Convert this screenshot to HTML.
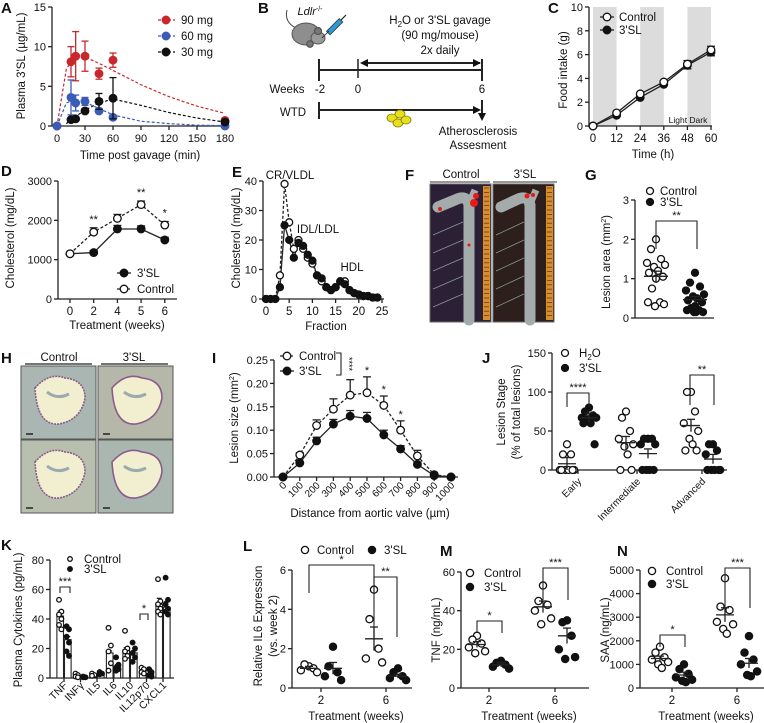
<!DOCTYPE html>
<html><head><meta charset="utf-8"><title>3'SL figure</title>
<style>
html,body{margin:0;padding:0;background:#fff;}
svg{display:block;font-family:"Liberation Sans",Arial,sans-serif;}
</style></head>
<body>
<svg id="fig" width="764" height="723" viewBox="0 0 764 723" xmlns="http://www.w3.org/2000/svg"></svg>
<script>
// ---------- Panel A data ----------
const timesA = [0, 15, 20, 30, 45, 60, 180];
const mg90 = [0, 8.1, 8.8, 8.8, 6.6, 8.3, 0.7];
const mg90Err = [0, 1.9, 3.1, 1.9, 0.7, 0.9, 0];
const mg60 = [0, 3.6, 2.9, 3.1, 1.9, 1.1, 0];
const mg60Err = [0, 2.2, 1.0, 0.5, 0.3, 0.2, 0];
const times30 = [15, 20, 30, 45, 60, 180];
const mg30 = [0.8, 0.9, 1.9, 3.1, 3.5, 0.5];
const mg30Err = [0.2, 0.2, 0.3, 1.0, 2.6, 0];
const fitT = [0, 10, 20, 30, 45, 60, 90, 120, 150, 180];
const fit90 = [0, 7.2, 8.9, 8.7, 7.9, 7.0, 5.2, 3.7, 2.5, 1.6];
const fit60 = [0, 2.9, 3.4, 3.0, 2.2, 1.4, 0.6, 0.3, 0.1, 0.05];
const fitT30 = [10, 15, 20, 30, 45, 60, 90, 120, 150, 180];
const fit30 = [0.3, 0.8, 1.2, 2.0, 2.9, 3.4, 2.6, 1.7, 1.0, 0.5];
const ticksA = [0, 5, 10, 15];
const xticksA = [0, 30, 60, 90, 120, 150, 180];
// ---------- Panel C data ----------
const timesC = [0, 12, 24, 36, 48, 60];
const foodCtrl = [0, 1.1, 2.7, 3.7, 5.2, 6.4];
const foodSL = [0, 0.9, 2.4, 3.5, 5.1, 6.2];
const ticksC = [0, 2, 4, 6, 8, 10];
const darkBands = [[0, 12], [24, 36], [48, 60]];
// ---------- Panel D data ----------
const weeksD = ['0', '2', '4', '5', '6'];
const cholCtrl = [1150, 1700, 2050, 2400, 1880];
const cholCtrlErr = [0, 110, 100, 90, 90];
const cholSL = [1150, 1180, 1780, 1780, 1500];
const cholSLErr = [0, 50, 90, 80, 70];
const ticksD = [0, 1000, 2000, 3000];
const starsD = ['', '**', '', '**', '*'];
// ---------- Panel E data ----------
const fractions = [0,1,2,3,4,5,6,7,8,9,10,11,12,13,14,15,16,17,18,19,20,21,22,23,24];
const fpCtrl = [0,0,0,8,39,26,17,20,17,14,12,8,6,4,3,4,6,6,3,2,1.5,1,1,0.5,0.5];
const fpSL = [0,0,0,4,25,20,14,19,18,15,13,8,7,4,3,4,6,5,3,2,1.5,1,1,0.5,0.5];
const ticksE = [0, 10, 20, 30, 40];
const xticksE = [0, 5, 10, 15, 20, 25];
// ---------- Panel G data ----------
const lesionCtrl = [2.0,1.75,1.5,1.4,1.35,1.3,1.2,1.15,1.05,1.0,0.75,0.4,0.4,0.35,0.3];
const lesionSL = [1.15,0.9,0.8,0.7,0.6,0.55,0.5,0.45,0.4,0.3,0.25,0.2,0.2,0.15,0.15,0.15];
const ticksG = [0, 1, 2, 3];
// ---------- Panel I data ----------
const distI = [0,100,200,300,400,500,600,700,800,900,1000];
const sizeCtrl = [0,0.047,0.11,0.145,0.175,0.18,0.153,0.10,0.045,0.005,0];
const sizeCtrlErr = [0,0.005,0.012,0.022,0.033,0.034,0.02,0.02,0.012,0.003,0];
const sizeSL = [0,0.03,0.077,0.113,0.13,0.125,0.09,0.06,0.027,0.003,0];
const sizeSLErr = [0,0.003,0.008,0.01,0.012,0.013,0.01,0.007,0.005,0.002,0];
const ticksI = [0, 0.05, 0.10, 0.15, 0.20, 0.25];
const tickLabelsI = ['0.00','0.05','0.10','0.15','0.20','0.25'];
const starsI = ['','','','','','*','*','*','','',''];
// ---------- Panel J data ----------
const stages = ['Early', 'Intermediate', 'Advanced'];
const stageH2O = [[33,20,20,0,0,0,0,0,0],[75,67,50,40,33,30,20,0,0],[100,100,75,60,50,40,33,25,25]];
const stageSL = [[80,75,70,67,67,65,60,60,33],[40,40,40,33,33,0,0,0,0],[33,33,25,20,0,0,0,0,0]];
const stageH2OMean = [8, 35, 57];
const stageSLMean = [67, 21, 14];
const ticksJ = [0, 50, 100, 150];
// ---------- Panel K data ----------
const cytokines = ['TNF', 'INFγ', 'IL5', 'IL6', 'IL10', 'IL12p70', 'CXCL1'];
const cytoCtrl = [42, 1.5, 2, 17, 19, 5, 50];
const cytoSL = [26, 0.7, 3, 8, 17, 3, 48];
const cytoCtrlPts = [[53,45,43,40,36,33],[3,2,1,0.5],[3,2,1.5],[34,22,18,10,5],[32,20,18,15,13],[7,6,4,3],[67,52,50,47,45,43]];
const cytoSLPts = [[35,33,28,24,18,15],[1,0.5,0.5],[4,3,2.5],[14,9,7,6,5],[24,20,17,14,11],[6,4,2,1],[68,53,50,47,45,43]];
const ticksK = [0, 20, 40, 60, 80];
// ---------- Panel L data ----------
const weeksLMN = ['2', '6'];
const il6Ctrl = [[1.1,1.2,1.0,0.9,0.8],[5.0,3.5,2.0,1.5,1.3]];
const il6SL = [[2.1,1.1,0.8,0.6,0.4],[1.0,0.8,0.6,0.5,0.4]];
const il6CtrlMean = [1.0, 2.5];
const il6SLMean = [1.0, 0.6];
const ticksL = [0, 2, 4, 6];
// ---------- Panel M data ----------
const tnfCtrl = [[27,25,23,21,19,18],[53,45,43,40,36,33]];
const tnfSL = [[14,13,12,11,10],[35,34,27,20,16,15]];
const tnfCtrlMean = [22.5, 42];
const tnfSLMean = [12, 27];
const ticksM = [0, 20, 40, 60];
// ---------- Panel N data ----------
const saaCtrl = [[1750,1500,1300,1200,1100,1000,850],[4650,3450,3300,2800,2700,2500,2300]];
const saaSL = [[1000,800,600,450,350,300,250],[2200,1500,1200,1000,700,550,500]];
const saaCtrlMean = [1250, 3100];
const saaSLMean = [550, 1050];
const ticksN = [0, 1000, 2000, 3000, 4000, 5000];

const NS = 'http://www.w3.org/2000/svg';
const svg = document.getElementById('fig');
function mk(p, tag, at, name) {
  const e = document.createElementNS(NS, tag);
  for (const k in at) e.setAttribute(k, at[k]);
  
  
  p.appendChild(e);
  return e;
}
function grp(name) { return mk(svg, 'g', {}, name); }
function txt(p, x, y, s, name, o) {
  const e = mk(p, 'text', Object.assign({x: x, y: y, 'font-size': 11, 'text-anchor': 'middle', fill: '#111'}, o || {}), name);
  e.innerHTML = s;
  return e;
}
function ln(p, x1, y1, x2, y2, name, o) {
  return mk(p, 'line', Object.assign({x1: x1, y1: y1, x2: x2, y2: y2, stroke: '#222', 'stroke-width': 1.3}, o || {}), name);
}
function dot(p, x, y, r, fill, name, stroke) {
  return mk(p, 'circle', {cx: x, cy: y, r: r, fill: fill, stroke: stroke || '#111', 'stroke-width': 1.3}, name);
}
function lin(d0, d1, r0, r1) { return v => r0 + (v - d0) * (r1 - r0) / (d1 - d0); }
function yAxis(p, x, sy, ticks, labels, name) {
  ln(p, x, sy(ticks[0]), x, sy(ticks[ticks.length - 1]), name + '-line');
  ticks.forEach((t, i) => {
    ln(p, x - 4, sy(t), x, sy(t), name + '-tick');
    txt(p, x - 6, sy(t) + 4, labels[i], name + '-label', {'text-anchor': 'end'});
  });
}
function ytitle(p, x, y, s, name, fs) {
  return txt(p, x, y, s, name, {transform: 'rotate(-90 ' + x + ' ' + y + ')', 'font-size': fs || 11});
}
function errBar(p, x, y0, y1, name, color, cap) {
  cap = cap || 4;
  ln(p, x, y0, x, y1, name, {stroke: color || '#222'});
  ln(p, x - cap, y1, x + cap, y1, name + '-cap', {stroke: color || '#222'});
}
function poly(p, pts, name, o) {
  return mk(p, 'polyline', Object.assign({points: pts.map(q => q.join(',')).join(' '), fill: 'none', stroke: '#222', 'stroke-width': 1.3}, o || {}), name);
}
function letter(s, x, y) {
  const e = txt(svg, x, y, s, 'panel-label-' + s.toLowerCase(), {'font-size': 15, 'font-weight': 'bold', 'text-anchor': 'start'});
  return e;
}
function bracket(p, x1, x2, y, drop, stars, name) {
  poly(p, [[x1, y + drop], [x1, y], [x2, y], [x2, y + drop]], name, {'stroke-width': 1.1});
  txt(p, (x1 + x2) / 2, y - 2, stars, name + '-stars', {'font-size': 11});
}
function jitter(i) { const o = [0, -5, 5, -9, 9, -2, 2, -7, 7, 0, -4, 4, -8, 8, -1, 1]; return o[i % o.length]; }

// ================= Panel A =================
(function () {
  const g = grp('panel-a');
  const sx = lin(0, 180, 57, 225), sy = lin(0, 15, 126, 7);
  yAxis(g, 52, sy, ticksA, ticksA.map(String), 'a-y-axis');
  ln(g, 52, 126, 228, 126, 'a-x-axis');
  xticksA.forEach(t => { ln(g, sx(t), 126, sx(t), 130, 'a-x-tick'); txt(g, sx(t), 142, String(t), 'a-x-tick-label'); });
  txt(g, 140, 159, 'Time post gavage (min)', 'a-x-title', {'font-size': 11.5});
  ytitle(g, 25, 66, "Plasma 3'SL (µg/mL)", 'a-y-title', 11.5);
  const series = [
    {t: timesA, v: mg90, e: mg90Err, ft: fitT, f: fit90, c: '#c8282d', n: '90mg'},
    {t: timesA, v: mg60, e: mg60Err, ft: fitT, f: fit60, c: '#3a5bb8', n: '60mg'},
    {t: times30, v: mg30, e: mg30Err, ft: fitT30, f: fit30, c: '#111', n: '30mg'}
  ];
  series.forEach(s => {
    poly(g, s.ft.map((t, i) => [sx(t), sy(s.f[i])]), 'a-fit-' + s.n, {stroke: s.c, 'stroke-dasharray': '3,2', 'stroke-width': 1.2});
    s.t.forEach((t, i) => {
      if (s.e[i] > 0) { errBar(g, sx(t), sy(s.v[i] - s.e[i]), sy(s.v[i] + s.e[i]), 'a-err-' + s.n, s.c, 3.5); ln(g, sx(t) - 3.5, sy(s.v[i] - s.e[i]), sx(t) + 3.5, sy(s.v[i] - s.e[i]), 'a-err-low', {stroke: s.c}); }
      dot(g, sx(t), sy(s.v[i]), 3.8, s.c, 'a-point-' + s.n, s.c);
    });
  });
  const leg = [['90 mg', '#c8282d'], ['60 mg', '#3a5bb8'], ['30 mg', '#111']];
  leg.forEach((l, i) => {
    const y = 20 + i * 16;
    ln(g, 158, y, 175, y, 'a-legend-line', {stroke: l[1], 'stroke-dasharray': '3,2'});
    dot(g, 166, y, 3.8, l[1], 'a-legend-marker', l[1]);
    txt(g, 181, y + 4, l[0], 'a-legend-entry', {'text-anchor': 'start', 'font-size': 11.5});
  });
})();
letter('A', 1, 13);

// ================= Panel B =================
(function () {
  const g = grp('panel-b');
  mk(g, 'path', {d: 'M287 10 Q284 22 296 28', fill: 'none', stroke: '#444', 'stroke-width': 1}, 'b-mouse-tail');
  mk(g, 'ellipse', {cx: 306, cy: 34, rx: 14, ry: 11, fill: '#8e8e8e', stroke: '#555'}, 'b-mouse-body');
  mk(g, 'ellipse', {cx: 318, cy: 38, rx: 7, ry: 6, fill: '#9a9a9a', stroke: '#555'}, 'b-mouse-head');
  dot(g, 318, 31, 3.5, '#777', 'b-mouse-ear', '#555');
  dot(g, 310, 44, 3.2, '#777', 'b-mouse-ear2', '#555');
  txt(g, 310, 15, '<tspan font-style="italic">Ldlr</tspan><tspan font-size="7" dy="-4">-/-</tspan>', 'b-strain-label', {'text-anchor': 'middle', 'font-size': 11});
  mk(g, 'rect', {x: 326, y: 24, width: 18, height: 5, fill: '#2a9ad8', stroke: '#333', 'stroke-width': 0.8, transform: 'rotate(-45 335 27)'}, 'b-syringe');
  ln(g, 322, 38, 329, 31, 'b-needle', {'stroke-width': 0.8});
  ln(g, 341, 20, 346, 15, 'b-plunger', {'stroke-width': 1.2});
  txt(g, 440, 24, "H<tspan font-size='8' dy='3'>2</tspan><tspan dy='-3'>O or 3'SL gavage</tspan>", 'b-treatment-label', {'font-size': 11.5});
  txt(g, 440, 39, '(90 mg/mouse)', 'b-dose-label', {'font-size': 11.5});
  txt(g, 440, 54, '2x daily', 'b-frequency-label', {'font-size': 11.5});
  ln(g, 319, 59, 319, 81, 'b-tick-week-minus2', {'stroke-width': 2});
  ln(g, 358, 59, 358, 78, 'b-tick-week-0', {'stroke-width': 1.5});
  ln(g, 482, 59, 482, 81, 'b-tick-week-6', {'stroke-width': 2});
  ln(g, 319, 70, 482, 70, 'b-timeline', {'stroke-width': 2});
  ln(g, 362, 63, 480, 63, 'b-treatment-arrow', {'stroke-width': 2});
  mk(g, 'path', {d: 'M360 63 l8 -4 v8 z', fill: '#111'}, 'b-arrowhead-left');
  mk(g, 'path', {d: 'M481 63 l-8 -4 v8 z', fill: '#111'}, 'b-arrowhead-right');
  txt(g, 287, 93, 'Weeks', 'b-weeks-label', {'font-size': 11.5});
  txt(g, 320, 93, '-2', 'b-week-label', {'font-size': 11.5});
  txt(g, 358, 93, '0', 'b-week-label', {'font-size': 11.5});
  txt(g, 482, 93, '6', 'b-week-label', {'font-size': 11.5});
  txt(g, 293, 116, 'WTD', 'b-diet-label', {'font-size': 11.5});
  ln(g, 319, 102, 319, 119, 'b-diet-start', {'stroke-width': 2});
  ln(g, 319, 110, 478, 110, 'b-diet-line', {'stroke-width': 2});
  mk(g, 'path', {d: 'M481 110 l-8 -4 v8 z', fill: '#111'}, 'b-diet-arrowhead');
  ln(g, 482, 100, 482, 116, 'b-down-line', {'stroke-width': 2});
  mk(g, 'path', {d: 'M482 121 l-4 -8 h8 z', fill: '#111'}, 'b-down-arrowhead');
  txt(g, 478, 135, 'Atherosclerosis', 'b-outcome-label', {'font-size': 11.5});
  txt(g, 478, 149, 'Assesment', 'b-outcome-label2', {'font-size': 11.5});
  [[392, 118], [400, 114], [398, 123], [406, 120]].forEach(p => mk(g, 'ellipse', {cx: p[0], cy: p[1], rx: 5, ry: 4, fill: '#e8e01a', stroke: '#807a10', 'stroke-width': 0.8}, 'b-food-pellet'));
})();
letter('B', 258, 13);

// ================= Panel C =================
(function () {
  const g = grp('panel-c');
  const sx = lin(0, 60, 593, 711), sy = lin(0, 10, 126, 7);
  darkBands.forEach(b => mk(g, 'rect', {x: sx(b[0]), y: 7, width: sx(b[1]) - sx(b[0]), height: 119, fill: '#dcdcdc'}, 'c-dark-band'));
  yAxis(g, 589, sy, ticksC, ticksC.map(String), 'c-y-axis');
  ln(g, 589, 126, 712, 126, 'c-x-axis');
  timesC.forEach(t => { ln(g, sx(t), 126, sx(t), 130, 'c-x-tick'); txt(g, sx(t), 142, String(t), 'c-x-tick-label', {'font-size': 11.5}); });
  txt(g, 653, 158, 'Time (h)', 'c-x-title', {'font-size': 11.5});
  ytitle(g, 567, 70, 'Food intake (g)', 'c-y-title', 11.5);
  txt(g, 688, 123, 'Light Dark', 'c-light-dark-label', {'font-size': 8.5});
  poly(g, timesC.map((t, i) => [sx(t), sy(foodSL[i])]), 'c-line-3sl');
  poly(g, timesC.map((t, i) => [sx(t), sy(foodCtrl[i])]), 'c-line-control');
  timesC.forEach((t, i) => {
    if (i > 3) errBar(g, sx(t), sy(foodSL[i]), sy(foodSL[i] - 0.3), 'c-err-3sl');
    dot(g, sx(t), sy(foodSL[i]), 3.8, '#111', 'c-point-3sl');
    if (i > 3) errBar(g, sx(t), sy(foodCtrl[i]), sy(foodCtrl[i] + 0.3), 'c-err-control');
    dot(g, sx(t), sy(foodCtrl[i]), 3.8, '#fff', 'c-point-control');
  });
  ln(g, 600, 17, 614, 17, 'c-legend-line'); dot(g, 607, 17, 3.8, '#fff', 'c-legend-marker-control');
  txt(g, 619, 21, 'Control', 'c-legend-entry', {'text-anchor': 'start', 'font-size': 11.5});
  ln(g, 600, 30, 614, 30, 'c-legend-line'); dot(g, 607, 30, 3.8, '#111', 'c-legend-marker-3sl');
  txt(g, 619, 34, "3'SL", 'c-legend-entry', {'text-anchor': 'start', 'font-size': 11.5});
})();
letter('C', 548, 13);

// ================= Panel D =================
(function () {
  const g = grp('panel-d');
  const sx = i => 70 + i * 23.7, sy = lin(0, 3000, 299, 181);
  yAxis(g, 58, sy, ticksD, ticksD.map(String), 'd-y-axis');
  ln(g, 58, 299, 177, 299, 'd-x-axis');
  weeksD.forEach((w, i) => { ln(g, sx(i), 299, sx(i), 303, 'd-x-tick'); txt(g, sx(i), 315, w, 'd-x-tick-label', {'font-size': 11.5}); });
  txt(g, 117, 329, 'Treatment (weeks)', 'd-x-title', {'font-size': 11.5});
  ytitle(g, 14, 238, 'Cholesterol (mg/dL)', 'd-y-title', 11.5);
  poly(g, weeksD.map((w, i) => [sx(i), sy(cholSL[i])]), 'd-line-3sl');
  poly(g, weeksD.map((w, i) => [sx(i), sy(cholCtrl[i])]), 'd-line-control', {'stroke-dasharray': '3,2'});
  weeksD.forEach((w, i) => {
    if (cholSLErr[i]) errBar(g, sx(i), sy(cholSL[i]), sy(cholSL[i] + cholSLErr[i]), 'd-err-3sl');
    dot(g, sx(i), sy(cholSL[i]), 3.8, '#111', 'd-point-3sl');
    if (cholCtrlErr[i]) errBar(g, sx(i), sy(cholCtrl[i]), sy(cholCtrl[i] + cholCtrlErr[i]), 'd-err-control');
    dot(g, sx(i), sy(cholCtrl[i]), 3.8, '#fff', 'd-point-control');
    if (starsD[i]) txt(g, sx(i), sy(cholCtrl[i] + cholCtrlErr[i]) - 5, starsD[i], 'd-significance', {'font-size': 11});
  });
  ln(g, 117, 273, 131, 273, 'd-legend-line'); dot(g, 124, 273, 3.8, '#111', 'd-legend-marker-3sl');
  txt(g, 137, 277, "3'SL", 'd-legend-entry', {'text-anchor': 'start', 'font-size': 11.5});
  ln(g, 117, 289, 131, 289, 'd-legend-line', {'stroke-dasharray': '3,2'}); dot(g, 124, 289, 3.8, '#fff', 'd-legend-marker-control');
  txt(g, 137, 293, 'Control', 'd-legend-entry', {'text-anchor': 'start', 'font-size': 11.5});
})();
letter('D', 1, 176);

// ================= Panel E =================
(function () {
  const g = grp('panel-e');
  const sx = lin(0, 25, 266, 382), sy = lin(0, 40, 299, 181);
  yAxis(g, 263, sy, ticksE, ticksE.map(String), 'e-y-axis');
  ln(g, 263, 299, 384, 299, 'e-x-axis');
  xticksE.forEach(t => { ln(g, sx(t), 299, sx(t), 303, 'e-x-tick'); txt(g, sx(t), 315, String(t), 'e-x-tick-label', {'font-size': 11.5}); });
  txt(g, 326, 330, 'Fraction', 'e-x-title', {'font-size': 11.5});
  ytitle(g, 240, 238, 'Cholesterol (mg/dL)', 'e-y-title', 11.5);
  poly(g, fractions.map((f, i) => [sx(f), sy(fpCtrl[i])]), 'e-line-control', {'stroke-dasharray': '3,2'});
  poly(g, fractions.map((f, i) => [sx(f), sy(fpSL[i])]), 'e-line-3sl');
  fractions.forEach((f, i) => dot(g, sx(f), sy(fpCtrl[i]), 3.5, '#fff', 'e-point-control'));
  fractions.forEach((f, i) => dot(g, sx(f), sy(fpSL[i]), 3.5, '#111', 'e-point-3sl'));
  txt(g, 290, 179, 'CR/VLDL', 'e-annotation-vldl', {'font-size': 11.5});
  txt(g, 318, 233, 'IDL/LDL', 'e-annotation-ldl', {'font-size': 11.5});
  txt(g, 352, 271, 'HDL', 'e-annotation-hdl', {'font-size': 11.5});
})();
letter('E', 232, 177);

// ================= Panel F (photos) =================
(function () {
  const g = grp('panel-f');
  txt(g, 461, 178, 'Control', 'f-header-control', {'font-size': 11.5});
  txt(g, 525, 178, "3'SL", 'f-header-3sl', {'font-size': 11.5});
  ln(g, 430, 182, 490, 182, 'f-header-rule', {'stroke-width': 1.5, stroke: '#777'});
  ln(g, 493, 182, 557, 182, 'f-header-rule', {'stroke-width': 1.5, stroke: '#777'});
  [[430, '#2c2036', 469, 'control'], [493, '#2c1f1c', 530, '3sl']].forEach(p => {
    const x = p[0];
    mk(g, 'rect', {x: x, y: 184, width: 61, height: 138, fill: p[1], stroke: '#666'}, 'f-photo-' + p[3]);
    mk(g, 'rect', {x: x + 53, y: 186, width: 7, height: 134, fill: '#d98d2c'}, 'f-ruler');
    for (let k = 0; k < 30; k++) ln(g, x + 54, 188 + k * 4.4, x + 59, 188 + k * 4.4, 'f-ruler-mark', {stroke: '#6b3d10', 'stroke-width': 0.8});
    const cx = p[2];
    for (let k = 0; k < 5; k++) ln(g, x + 3, 235 + k * 18, cx - 6, 222 + k * 18, 'f-pin', {stroke: '#8a9a9a', 'stroke-width': 0.7});
    mk(g, 'path', {d: `M${cx} 320 L${cx} 205 Q${cx - 2} 194 ${cx - 14} 200 L${x + 8} 207`, fill: 'none', stroke: '#a4abab', 'stroke-width': 11, 'stroke-linecap': 'round'}, 'f-aorta');
    ln(g, cx, 204, cx + 6, 190, 'f-branch', {stroke: '#a4abab', 'stroke-width': 7});
  });
  [[476, 196, 3], [474, 203, 4], [440, 209, 2], [469, 245, 1.5]].forEach(d => mk(g, 'circle', {cx: d[0], cy: d[1], r: d[2], fill: '#e41a1a'}, 'f-lesion-stain'));
  [[527, 196, 2.5], [533, 195, 2]].forEach(d => mk(g, 'circle', {cx: d[0], cy: d[1], r: d[2], fill: '#e41a1a'}, 'f-lesion-stain'));
})();
letter('F', 405, 180);

// ================= Panel G =================
(function () {
  const g = grp('panel-g');
  const sy = lin(0, 3, 318, 200);
  yAxis(g, 635, sy, ticksG, ticksG.map(String), 'g-y-axis');
  ln(g, 635, 318, 714, 318, 'g-x-axis');
  ytitle(g, 610, 262, 'Lesion area (mm<tspan font-size="7" dy="-4">2</tspan><tspan dy="4">)</tspan>', 'g-y-title', 11.5);
  const xc = 656, xs = 695;
  lesionCtrl.forEach((v, i) => dot(g, xc + jitter(i), sy(v), 3.5, '#fff', 'g-point-control'));
  lesionSL.forEach((v, i) => dot(g, xs + jitter(i), sy(v), 3.5, '#111', 'g-point-3sl'));
  const mC = lesionCtrl.reduce((a, b) => a + b, 0) / lesionCtrl.length;
  const mS = lesionSL.reduce((a, b) => a + b, 0) / lesionSL.length;
  ln(g, xc - 12, sy(mC), xc + 12, sy(mC), 'g-mean-control');
  errBar(g, xc, sy(mC - 0.13), sy(mC + 0.13), 'g-sem-control', '#222', 5);
  ln(g, xs - 12, sy(mS), xs + 12, sy(mS), 'g-mean-3sl');
  errBar(g, xs, sy(mS - 0.08), sy(mS + 0.08), 'g-sem-3sl', '#222', 5);
  bracket(g, xc, xs + 2, 221, 28, '**', 'g-significance-bracket');
  dot(g, 650, 191, 3.5, '#fff', 'g-legend-marker-control');
  txt(g, 660, 195, 'Control', 'g-legend-entry', {'text-anchor': 'start', 'font-size': 11.5});
  dot(g, 650, 202, 3.5, '#111', 'g-legend-marker-3sl');
  txt(g, 660, 206, "3'SL", 'g-legend-entry', {'text-anchor': 'start', 'font-size': 11.5});
})();
letter('G', 585, 180);

// ================= Panel H (histology) =================
(function () {
  const g = grp('panel-h');
  txt(g, 59, 361, 'Control', 'h-header-control', {'font-size': 11.5});
  txt(g, 134, 361, "3'SL", 'h-header-3sl', {'font-size': 11.5});
  ln(g, 25, 364, 92, 364, 'h-header-rule');
  ln(g, 101, 364, 168, 364, 'h-header-rule');
  const tiles = [[21, 366, '#a9b6b2'], [98, 366, '#b5b7a8'], [21, 440, '#b8bfae'], [98, 440, '#aab6b0']];
  tiles.forEach((t, i) => {
    mk(g, 'rect', {x: t[0], y: t[1], width: 75, height: 73, fill: t[2], stroke: '#555', 'stroke-width': 1}, 'h-section-' + i);
    mk(g, 'path', {d: `M${t[0] + 14} ${t[1] + 22} q14 -16 30 -10 q20 2 20 20 q-4 22 -26 26 q-22 2 -24 -36 z`, fill: '#f1efcf', stroke: '#8a5c8e', 'stroke-width': 1.6, 'stroke-dasharray': i % 2 ? '' : '2,1'}, 'h-lumen');
    mk(g, 'path', {d: `M${t[0] + 26} ${t[1] + 26} q10 8 22 2`, fill: 'none', stroke: '#9aaab0', 'stroke-width': 3}, 'h-leaflet');
    ln(g, t[0] + 5, t[1] + 68, t[0] + 12, t[1] + 68, 'h-scale-bar', {stroke: '#222', 'stroke-width': 1.5});
  });
})();
letter('H', 1, 363);

// ================= Panel I =================
(function () {
  const g = grp('panel-i');
  const sx = lin(0, 1000, 283, 451), sy = lin(0, 0.25, 477, 360);
  yAxis(g, 274, sy, ticksI, tickLabelsI, 'i-y-axis');
  ln(g, 274, 477, 458, 477, 'i-x-axis');
  distI.forEach(d => {
    ln(g, sx(d), 477, sx(d), 481, 'i-x-tick');
    txt(g, sx(d) + 4, 486, String(d), 'i-x-tick-label', {'text-anchor': 'end', transform: `rotate(-45 ${sx(d) + 4} 486)`, 'font-size': 10});
  });
  txt(g, 370, 517, 'Distance from aortic valve (µm)', 'i-x-title', {'font-size': 11.5});
  ytitle(g, 238, 418, 'Lesion size (mm<tspan font-size="7" dy="-4">2</tspan><tspan dy="4">)</tspan>', 'i-y-title', 11.5);
  poly(g, distI.map((d, i) => [sx(d), sy(sizeCtrl[i])]), 'i-line-control', {'stroke-dasharray': '3,2'});
  poly(g, distI.map((d, i) => [sx(d), sy(sizeSL[i])]), 'i-line-3sl');
  distI.forEach((d, i) => {
    if (sizeCtrlErr[i]) errBar(g, sx(d), sy(sizeCtrl[i]), sy(sizeCtrl[i] + sizeCtrlErr[i]), 'i-err-control');
    if (sizeSLErr[i]) errBar(g, sx(d), sy(sizeSL[i]), sy(sizeSL[i] + sizeSLErr[i]), 'i-err-3sl');
    dot(g, sx(d), sy(sizeCtrl[i]), 3.8, '#fff', 'i-point-control');
    dot(g, sx(d), sy(sizeSL[i]), 3.8, '#111', 'i-point-3sl');
    if (starsI[i]) txt(g, sx(d), sy(sizeCtrl[i] + sizeCtrlErr[i]) - 3, starsI[i], 'i-significance');
  });
  ln(g, 280, 356, 294, 356, 'i-legend-line', {'stroke-dasharray': '3,2'}); dot(g, 287, 356, 3.8, '#fff', 'i-legend-marker-control');
  txt(g, 299, 360, 'Control', 'i-legend-entry', {'text-anchor': 'start', 'font-size': 11.5});
  ln(g, 280, 371, 294, 371, 'i-legend-line'); dot(g, 287, 371, 3.8, '#111', 'i-legend-marker-3sl');
  txt(g, 299, 375, "3'SL", 'i-legend-entry', {'text-anchor': 'start', 'font-size': 11.5});
  poly(g, [[336, 353], [341, 353], [341, 375], [336, 375]], 'i-bracket', {'stroke-width': 1.1});
  txt(g, 346, 364, '****', 'i-bracket-stars', {'font-size': 9, transform: 'rotate(90 346 364)'});
})();
letter('I', 212, 363);

// ================= Panel J =================
(function () {
  const g = grp('panel-j');
  const sy = lin(0, 150, 470, 353);
  yAxis(g, 552, sy, ticksJ, ticksJ.map(String), 'j-y-axis');
  ln(g, 552, 470, 727, 470, 'j-x-axis');
  ytitle(g, 505, 412, 'Lesion Stage', 'j-y-title', 11.5);
  ytitle(g, 520, 412, '(% of total lesions)', 'j-y-title2', 11.5);
  const centers = [578, 637, 702];
  stages.forEach((s, k) => {
    const c = centers[k], xh = c - 11, xs = c + 11;
    ln(g, c, 470, c, 474, 'j-x-tick');
    txt(g, c + 4, 482, s, 'j-x-tick-label', {'text-anchor': 'end', transform: `rotate(-45 ${c + 4} 482)`, 'font-size': 10});
    stageH2O[k].forEach((v, i) => dot(g, xh + jitter(i) * 0.8, sy(v), 3.5, '#fff', 'j-point-h2o'));
    stageSL[k].forEach((v, i) => dot(g, xs + jitter(i) * 0.8, sy(v), 3.5, '#111', 'j-point-3sl'));
    ln(g, xh - 9, sy(stageH2OMean[k]), xh + 9, sy(stageH2OMean[k]), 'j-mean-h2o');
    errBar(g, xh, sy(stageH2OMean[k] - 8), sy(stageH2OMean[k] + 8), 'j-sem-h2o', '#222', 4);
    ln(g, xs - 9, sy(stageSLMean[k]), xs + 9, sy(stageSLMean[k]), 'j-mean-3sl');
    errBar(g, xs, sy(stageSLMean[k] - 6), sy(stageSLMean[k] + 6), 'j-sem-3sl', '#222', 4);
  });
  bracket(g, 567, 589, 393, 14, '****', 'j-bracket-early');
  bracket(g, 690, 714, 375, 30, '**', 'j-bracket-advanced');
  dot(g, 565, 353, 3.5, '#fff', 'j-legend-marker-h2o');
  txt(g, 579, 357, 'H<tspan font-size="8" dy="3">2</tspan><tspan dy="-3">O</tspan>', 'j-legend-entry', {'text-anchor': 'start', 'font-size': 11.5});
  dot(g, 565, 368, 3.5, '#111', 'j-legend-marker-3sl');
  txt(g, 579, 372, "3'SL", 'j-legend-entry', {'text-anchor': 'start', 'font-size': 11.5});
})();
letter('J', 482, 363);

// ================= Panel K =================
(function () {
  const g = grp('panel-k');
  const sy = lin(0, 80, 678, 560);
  yAxis(g, 50, sy, ticksK, ticksK.map(String), 'k-y-axis');
  ln(g, 50, 678, 174, 678, 'k-x-axis');
  ytitle(g, 22, 620, 'Plasma Cytokines (pg/mL)', 'k-y-title', 11.5);
  cytokines.forEach((c, k) => {
    const cx = 64 + k * 16.5;
    [[cytoCtrl, cytoCtrlPts, -3.8, '#fff', 'control'], [cytoSL, cytoSLPts, 3.8, '#111', '3sl']].forEach(s => {
      const x = cx + s[2];
      mk(g, 'rect', {x: x - 3.3, y: sy(s[0][k]), width: 6.6, height: 678 - sy(s[0][k]), fill: '#fff', stroke: '#222', 'stroke-width': 1.1}, 'k-bar-' + s[4]);
      errBar(g, x, sy(s[0][k]), sy(s[0][k] + Math.max(1, s[0][k] * 0.08)), 'k-err-' + s[4], '#222', 2.5);
      s[1][k].forEach((v, i) => dot(g, x + (i % 2 ? 1.2 : -1.2), sy(v), 2.3, s[3], 'k-point-' + s[4]));
    });
    ln(g, cx, 678, cx, 682, 'k-x-tick');
    txt(g, cx + 4, 686, c, 'k-x-tick-label', {'text-anchor': 'end', transform: `rotate(-45 ${cx + 4} 686)`, 'font-size': 10.5});
  });
  bracket(g, 60, 70, 587, 6, '***', 'k-bracket-tnf');
  bracket(g, 140, 148, 614, 6, '*', 'k-bracket-il6');
  dot(g, 70, 559, 2.3, '#fff', 'k-legend-marker-control');
  txt(g, 84, 563, 'Control', 'k-legend-entry', {'text-anchor': 'start', 'font-size': 11.5});
  dot(g, 70, 569, 2.3, '#111', 'k-legend-marker-3sl');
  txt(g, 84, 573, "3'SL", 'k-legend-entry', {'text-anchor': 'start', 'font-size': 11.5});
})();
letter('K', 1, 550);

// ================= Panels L, M, N =================
function dotPanel(pfx, axisX, axisEnd, sy, ticks, centers, ctrl, sl, mC, mS, semC, semS) {
  const g = grp('panel-' + pfx);
  yAxis(g, axisX, sy, ticks, ticks.map(String), pfx + '-y-axis');
  ln(g, axisX, 688, axisEnd, 688, pfx + '-x-axis');
  weeksLMN.forEach((w, k) => {
    const c = centers[k];
    ln(g, c, 688, c, 692, pfx + '-x-tick');
    txt(g, c, 704, w, pfx + '-x-tick-label', {'font-size': 11.5});
    const xc = c - 12, xs = c + 12;
    ctrl[k].forEach((v, i) => dot(g, xc + jitter(i) * 0.9, sy(v), 3.6, '#fff', pfx + '-point-control'));
    sl[k].forEach((v, i) => dot(g, xs + jitter(i) * 0.9, sy(v), 3.6, '#111', pfx + '-point-3sl'));
    ln(g, xc - 9, sy(mC[k]), xc + 9, sy(mC[k]), pfx + '-mean-control');
    errBar(g, xc, sy(mC[k] - semC[k]), sy(mC[k] + semC[k]), pfx + '-sem-control', '#222', 4);
    ln(g, xs - 9, sy(mS[k]), xs + 9, sy(mS[k]), pfx + '-mean-3sl');
    errBar(g, xs, sy(mS[k] - semS[k]), sy(mS[k] + semS[k]), pfx + '-sem-3sl', '#222', 4);
  });
  txt(g, (axisX + axisEnd) / 2 + 4, 720, 'Treatment (weeks)', pfx + '-x-title', {'font-size': 11.5});
  return g;
}
(function () {
  const sy = lin(0, 6, 688, 570);
  const g = dotPanel('l', 292, 412, sy, ticksL, [321, 386], il6Ctrl, il6SL, il6CtrlMean, il6SLMean, [0.1, 0.6], [0.3, 0.1]);
  ytitle(g, 262, 626, 'Relative IL6 Expression', 'l-y-title', 11.5);
  ytitle(g, 277, 626, '(vs. week 2)', 'l-y-title2', 11.5);
  bracket(g, 309, 374, 565, 28, '*', 'l-bracket-control');
  bracket(g, 374, 397, 577, 60, '**', 'l-bracket-week6');
  dot(g, 305, 550, 3.6, '#fff', 'l-legend-marker-control');
  txt(g, 317, 554, 'Control', 'l-legend-entry', {'text-anchor': 'start', 'font-size': 11.5});
  dot(g, 372, 550, 3.6, '#111', 'l-legend-marker-3sl');
  txt(g, 384, 554, "3'SL", 'l-legend-entry', {'text-anchor': 'start', 'font-size': 11.5});
})();
letter('L', 243, 551);
(function () {
  const sy = lin(0, 60, 688, 572);
  const g = dotPanel('m', 461, 589, sy, ticksM, [489, 555], tnfCtrl, tnfSL, tnfCtrlMean, tnfSLMean, [1.5, 3], [1, 4]);
  ytitle(g, 440, 630, 'TNF (ng/mL)', 'm-y-title', 11.5);
  bracket(g, 477, 502, 621, 12, '*', 'm-bracket-week2');
  bracket(g, 543, 568, 568, 32, '***', 'm-bracket-week6');
  dot(g, 470, 573, 3.6, '#fff', 'm-legend-marker-control');
  txt(g, 484, 577, 'Control', 'm-legend-entry', {'text-anchor': 'start', 'font-size': 11.5});
  dot(g, 470, 587, 3.6, '#111', 'm-legend-marker-3sl');
  txt(g, 484, 591, "3'SL", 'm-legend-entry', {'text-anchor': 'start', 'font-size': 11.5});
})();
letter('M', 440, 556);
(function () {
  const sy = lin(0, 5000, 688, 570);
  const g = dotPanel('n', 640, 764, sy, ticksN, [672, 737], saaCtrl, saaSL, saaCtrlMean, saaSLMean, [100, 300], [120, 200]);
  ytitle(g, 609, 630, 'SAA (ng/mL)', 'n-y-title', 11.5);
  bracket(g, 660, 685, 635, 12, '*', 'n-bracket-week2');
  bracket(g, 725, 750, 568, 40, '***', 'n-bracket-week6');
  dot(g, 652, 571, 3.6, '#fff', 'n-legend-marker-control');
  txt(g, 666, 575, 'Control', 'n-legend-entry', {'text-anchor': 'start', 'font-size': 11.5});
  dot(g, 652, 584, 3.6, '#111', 'n-legend-marker-3sl');
  txt(g, 666, 588, "3'SL", 'n-legend-entry', {'text-anchor': 'start', 'font-size': 11.5});
})();
letter('N', 617, 556);
</script>
</body></html>
